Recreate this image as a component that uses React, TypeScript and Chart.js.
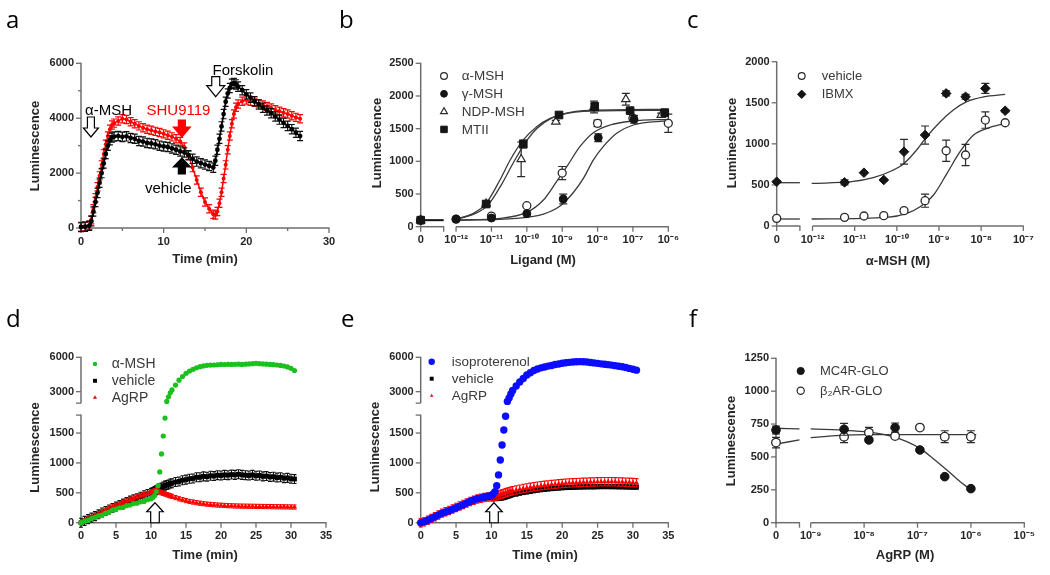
import React, { useEffect, useRef } from "react";
import { Chart, registerables } from "chart.js";
Chart.register(...registerables);

const FONT = '"Liberation Sans", Arial, Helvetica, sans-serif';
const AXIS_COLOR = "#6e6e6e";
const INK = "#262626";
const RED = "#ff0000";
const GREEN = "#1cc01c";
const BLUE = "#0c0cff";

// ================= panel a : time course =================
const aTime = [0,0.5,1,1.25,1.5,1.75,2,2.25,2.5,2.75,3,3.25,3.5,3.75,4,4.5,5,5.5,6,6.5,7,7.5,8,8.5,9,9.5,10,10.5,11,11.5,12,12.5,13,13.5,14,14.5,15,15.5,16,16.25,16.5,16.75,17,17.25,17.5,17.75,18,18.25,18.5,18.75,19,19.5,20,20.5,21,21.5,22,22.5,23,23.5,24,24.5,25,25.5,26,26.5];
const aVehicle = [40,50,80,250,600,950,1280,1650,2000,2350,2700,3000,3200,3300,3330,3350,3320,3340,3280,3250,3170,3150,3100,3080,3050,3000,2970,2950,2900,2850,2790,2750,2650,2520,2420,2360,2310,2260,2200,2450,2850,3250,3700,4150,4600,4900,5100,5250,5280,5230,5150,5020,4870,4750,4620,4500,4380,4280,4180,4060,3950,3830,3720,3600,3470,3350];
const aSHU9119 = [40,50,100,300,700,1100,1500,1900,2300,2700,3050,3350,3600,3750,3820,3900,3980,3950,3870,3800,3720,3650,3600,3560,3520,3480,3430,3380,3320,3250,3150,2950,2650,2200,1750,1300,950,700,500,470,600,900,1300,1800,2300,2850,3350,3800,4150,4400,4520,4620,4660,4620,4580,4530,4480,4430,4370,4310,4250,4200,4150,4090,4030,3980];
const aVehicleSem = 170;
const aSHU9119Sem = 150;
const aTicksX = [0, 10, 20, 30];
const aMinorX = [5, 15, 25];
const aTicksY = [0, 2000, 4000, 6000];
const aMinorY = [1000, 3000, 5000];

// ================= panel b : ligands =================
const bZero = -13;
const bAlphaLogC = [null, -12, -11, -10, -9, -8, -7, -6];
const bAlphaLum = [100, 115, 163, 321, 821, 1582, 1660, 1582];
const bAlphaSem = [0, 0, 10, 12, 100, 50, 40, 140];
const bGammaLogC = [null, -12, -11, -10, -8.97, -7.98, -6.97];
const bGammaLum = [100, 117, 133, 199, 423, 1362, 1643];
const bGammaSem = [0, 0, 0, 15, 75, 60, 60];
const bNdpLogC = [null, -11.15, -10.16, -9.18, -8.1, -7.2, -6.2];
const bNdpLum = [100, 350, 1031, 1607, 1830, 1949, 1709];
const bNdpSem = [0, 20, 265, 20, 90, 90, 30];
const bMtiiLogC = [null, -11.15, -10.1, -9.09, -8.08, -7.08, -6.1];
const bMtiiLum = [100, 347, 1265, 1709, 1837, 1776, 1745];
const bMtiiSem = [0, 40, 60, 20, 60, 30, 20];
const bAlphaFitLogC = [-12, -10.76, -10.0, -9.53, -9.16, -8.87, -8.5, -8.12, -7.65, -6.99, -6.0];
const bAlphaFitLum = [102, 128, 219, 408, 689, 918, 1224, 1439, 1556, 1617, 1643];
const bGammaFitLogC = [-12, -10.29, -9.53, -9.06, -8.69, -8.4, -8.12, -7.84, -7.46, -6.99, -6.0];
const bGammaFitLum = [97, 128, 194, 316, 520, 740, 1020, 1224, 1429, 1556, 1622];
const bNdpFitLogC = [-12, -11.5, -11.1, -10.7, -10.4, -10.05, -9.7, -9.3, -8.85, -8.4, -6.0];
const bNdpFitLum = [115, 190, 330, 660, 960, 1280, 1510, 1660, 1740, 1775, 1795];
const bMtiiFitLogC = [-12, -11.51, -11.15, -10.76, -10.47, -10.1, -9.72, -9.34, -8.87, -8.4, -6.0];
const bMtiiFitLum = [117, 204, 357, 714, 1020, 1327, 1531, 1658, 1735, 1765, 1780];
const bZeroSegLogC = [-13, -12.35];
const bZeroSegLum = [100, 100];
const bTicksX = [-13, -12.35, -12, -11, -10, -9, -8, -7, -6];
const bTickLabelsX = ["0", "", "10⁻¹²", "10⁻¹¹", "10⁻¹⁰", "10⁻⁹", "10⁻⁸", "10⁻⁷", "10⁻⁶"];
const bTicksY = [0, 500, 1000, 1500, 2000, 2500];

// ================= panel c : IBMX =================
const cZero = -12.85;
const cLogC = [null, -11.24, -10.78, -10.31, -9.83, -9.33, -8.83, -8.37, -7.9, -7.43];
const cIbmxLum = [539, 531, 649, 560, 904, 1107, 1614, 1573, 1675, 1403];
const cIbmxSem = [10, 30, 10, 10, 150, 110, 30, 30, 60, 15];
const cVehicleLum = [93, 105, 122, 126, 187, 308, 916, 864, 1290, 1257];
const cVehicleSem = [20, 10, 10, 10, 15, 80, 130, 130, 100, 15];
const cIbmxFitLogC = [-12.02, -11.07, -10.56, -10.12, -9.83, -9.53, -9.29, -8.97, -8.66, -8.34, -7.94, -7.43];
const cIbmxFitLum = [519, 539, 588, 673, 762, 925, 1087, 1269, 1411, 1513, 1573, 1602];
const cVehicleFitLogC = [-12.02, -10.24, -9.76, -9.45, -9.13, -8.81, -8.5, -8.18, -7.86, -7.43];
const cVehicleFitLum = [85, 105, 154, 235, 377, 641, 904, 1107, 1188, 1249];
const cZeroSegLogC = [-12.85, -12.3];
const cIbmxZeroLum = [527, 527];
const cVehicleZeroLum = [85, 85];
const cTicksX = [-12.85, -12.3, -12, -11, -10, -9, -8, -7];
const cTickLabelsX = ["0", "", "10⁻¹²", "10⁻¹¹", "10⁻¹⁰", "10⁻⁹", "10⁻⁸", "10⁻⁷"];
const cTicksY = [0, 500, 1000, 1500, 2000];

// ================= panel d : MC4R time course =================
const dTime = [0,0.5,1,1.5,2,2.5,3,3.5,4,4.5,5,5.5,6,6.5,7,7.5,8,8.5,9,9.5,10,10.25,10.5,10.75,11,11.25,11.5,11.75,12,12.25,12.5,12.75,13,13.5,14,14.5,15,15.5,16,16.5,17,17.5,18,18.5,19,19.5,20,20.5,21,21.5,22,22.5,23,23.5,24,24.5,25,25.5,26,26.5,27,27.5,28,28.5,29,29.5,30,30.5];
const dAlphaMSH = [0,25,38,70,88,115,128,160,178,210,228,250,255,285,296,320,325,350,356,385,400,420,450,520,620,850,1150,1450,1750,2150,2550,2900,3150,3580,4000,4320,4600,4800,4950,5080,5180,5250,5300,5320,5330,5350,5380,5370,5390,5380,5390,5400,5380,5400,5420,5440,5470,5440,5420,5400,5380,5360,5330,5290,5240,5160,5040,4850];
const dVehicle = [0,30,60,85,110,140,170,195,220,245,270,295,320,345,370,390,410,435,460,480,500,515,530,545,560,575,590,605,620,630,640,655,660,680,690,710,720,735,740,760,760,775,770,785,780,795,790,800,795,805,800,810,800,795,790,800,785,790,775,780,765,770,755,760,745,750,735,730];
const dAgRP = [0,30,60,90,120,150,180,210,240,265,290,315,340,365,390,410,430,450,470,490,510,520,530,535,530,515,500,490,480,470,460,450,440,420,400,385,370,355,345,335,325,318,310,305,300,295,292,288,285,283,280,278,277,276,275,274,273,272,271,270,269,268,267,266,265,264,263,262];
const dVehicleSem = 75;
const dAgRPSem = 35;

// ================= panel e : beta2AR time course =================
const eTime = dTime;
const eIsoproterenol = [0,15,40,70,100,130,160,180,200,225,250,275,300,330,360,380,400,415,430,445,460,480,520,620,800,1050,1300,1550,1780,2150,2450,2800,3100,3500,3850,4150,4450,4650,4850,4980,5080,5160,5230,5290,5370,5420,5480,5530,5560,5590,5610,5620,5610,5590,5550,5510,5470,5430,5400,5360,5320,5270,5220,5170,5110,5030,4960,4880];
const eVehicle = [0,15,35,65,95,125,150,175,195,220,245,270,295,320,345,365,385,400,410,415,420,410,410,405,405,410,415,420,430,440,450,460,470,480,495,505,515,525,535,545,552,560,565,570,575,580,585,588,590,592,595,597,598,600,600,600,602,603,603,603,602,602,600,600,598,597,595,595];
const eAgRP = [0,15,40,70,100,130,160,185,205,230,255,280,305,330,355,375,395,410,420,430,435,430,440,450,460,470,480,490,500,510,520,528,535,548,560,572,582,592,602,610,618,625,632,638,644,650,655,660,664,667,670,673,676,678,680,682,684,685,686,686,685,684,682,680,678,676,672,668];
const eVehicleSem = 35;
const eAgRPSem = 70;

const timeTicks35 = [0, 5, 10, 15, 20, 25, 30, 35];
const K_BREAK = 0.1917;
const brk = (v: number) => (v <= 2000 ? v : 2000 + (v - 2000) * K_BREAK);
const deTicksY = [0, 500, 1000, 1500, 1800, 2000, brk(3000), brk(6000)];
const deTickLabelsY = ["0", "500", "1000", "1500", "", "", "3000", "6000"];

// ================= panel f : AgRP =================
const fZero = -9.65;
const fLogC = [null, -8.375, -7.91, -7.42, -6.955, -6.49, -6.0];
const fMc4rLum = [705, 710, 629, 723, 553, 350, 259];
const fMc4rSem = [30, 45, 15, 35, 10, 10, 10];
const fB2arLum = [609, 654, 685, 659, 723, 654, 654];
const fB2arSem = [40, 45, 40, 10, 10, 45, 45];
const fMc4rFitLogC = [-9.0, -8.27, -7.83, -7.46, -7.2, -6.955, -6.71, -6.45, -6.2, -6.02];
const fMc4rFitLum = [713, 700, 685, 654, 616, 565, 489, 401, 312, 256];
const fB2arFitLogC = [-9.0, -8.45, -7.95, -5.9];
const fB2arFitLum = [647, 664, 669, 669];
const fZeroSegLogC = [-9.65, -9.21];
const fMc4rZeroLum = [718, 713];
const fB2arZeroLum = [598, 629];
const fTicksX = [-9.65, -9.21, -9, -8, -7, -6, -5];
const fTickLabelsX = ["0", "", "10⁻⁹", "10⁻⁸", "10⁻⁷", "10⁻⁶", "10⁻⁵"];
const fTicksY = [0, 250, 500, 750, 1000, 1250];

// ================= helpers =================
type Marker = { shape: string; r: number; fill: string; stroke: string; lw: number };
const mk = (shape: string, r: number, fill: string, stroke: string, lw: number): Marker => ({ shape, r, fill, stroke, lw });

const series = (xs: number[], ys: number[], f: (v: number) => number = (v) => v) =>
  xs.map((x, i) => ({ x, y: f(ys[i]) }));
const doses = (xs: (number | null)[], ys: number[], zero: number) =>
  xs.map((x, i) => ({ x: x === null ? zero : x, y: ys[i] }));

function pts(data: any[], m: Marker, line?: { color: string; w: number }) {
  return {
    data,
    pointStyle: m.shape,
    pointRadius: m.r,
    pointHoverRadius: m.r,
    pointBackgroundColor: m.fill,
    pointBorderColor: m.stroke,
    pointBorderWidth: m.lw,
    showLine: !!line,
    borderColor: line ? line.color : m.stroke,
    borderWidth: line ? line.w : 0,
    clip: false,
  };
}
function curve(data: any[], color = "#3a3a3a", w = 1.3) {
  return {
    data,
    showLine: true,
    pointRadius: 0,
    pointHoverRadius: 0,
    borderColor: color,
    borderWidth: w,
    cubicInterpolationMode: "monotone",
    clip: false,
    fill: false,
  };
}

function drawMarker(ctx: CanvasRenderingContext2D, m: Marker, x: number, y: number) {
  ctx.save();
  ctx.beginPath();
  const r = m.r;
  if (m.shape === "circle") ctx.arc(x, y, r, 0, Math.PI * 2);
  else if (m.shape === "rect") {
    const s = r * Math.SQRT1_2;
    ctx.rect(x - s, y - s, 2 * s, 2 * s);
  } else if (m.shape === "rectRot") {
    ctx.moveTo(x, y - r);
    ctx.lineTo(x + r, y);
    ctx.lineTo(x, y + r);
    ctx.lineTo(x - r, y);
    ctx.closePath();
  } else if (m.shape === "triangle") {
    for (let k = 0; k < 3; k++) {
      const a = (k * 2 * Math.PI) / 3;
      const px = x + Math.sin(a) * r;
      const py = y - Math.cos(a) * r;
      if (k === 0) ctx.moveTo(px, py);
      else ctx.lineTo(px, py);
    }
    ctx.closePath();
  }
  ctx.fillStyle = m.fill;
  ctx.fill();
  if (m.lw > 0) {
    ctx.lineWidth = m.lw;
    ctx.strokeStyle = m.stroke;
    ctx.stroke();
  }
  ctx.restore();
}

type Err = { v: number[] | number; color: string; cap: number; lw: number };
type AxisSpec = { min: number; max: number; ticks: number[]; labels: string[]; minor?: number[]; segments: number[][] };
type Arrow = { x: number; y: number; dir: "up" | "down"; len: number; hw: number; sw: number; hl: number; fill: string; stroke: string };
type Txt = { t: string; x: number; y: number; size: number; bold?: boolean; color?: string; align?: CanvasTextAlign; rot?: boolean };
type Spec = {
  id: string;
  box: { x: number; y: number; w: number; h: number };
  area: { L: number; T: number; R: number; B: number };
  x: AxisSpec;
  y: AxisSpec;
  sets: { ds: any; err?: Err }[];
  legend?: { x: number; y: number; dy: number; tx: number; size: number; items: { label: string; m: Marker }[] };
  texts: Txt[];
  arrows?: Arrow[];
};

const W_Y = 50;
const H_X = 30;

function makePlugin(spec: Spec) {
  const ox = spec.box.x;
  const oy = spec.box.y;
  return {
    id: "panel_" + spec.id,
    beforeDatasetsDraw(chart: any) {
      const ctx: CanvasRenderingContext2D = chart.ctx;
      const xs = chart.scales.x;
      const ys = chart.scales.y;
      const { left, bottom } = chart.chartArea;
      ctx.save();
      ctx.strokeStyle = AXIS_COLOR;
      ctx.lineWidth = 1.5;
      const seg = (x1: number, y1: number, x2: number, y2: number) => {
        ctx.beginPath();
        ctx.moveTo(x1, y1);
        ctx.lineTo(x2, y2);
        ctx.stroke();
      };
      for (const [a, b] of spec.x.segments) {
        const p1 = xs.getPixelForValue(a);
        const p2 = xs.getPixelForValue(b);
        seg(p1 - (a === spec.x.min ? 0.75 : 0), bottom, p2 + 0.5, bottom);
      }
      for (const [a, b] of spec.y.segments) {
        const p1 = ys.getPixelForValue(a);
        const p2 = ys.getPixelForValue(b);
        seg(left, p1 + (a === spec.y.min ? 0.75 : 0), left, p2 - 0.5);
      }
      ctx.lineWidth = 1.3;
      for (const v of spec.x.ticks) {
        const p = xs.getPixelForValue(v);
        seg(p, bottom, p, bottom + 5);
      }
      for (const v of spec.x.minor || []) {
        const p = xs.getPixelForValue(v);
        seg(p, bottom, p, bottom + 3);
      }
      for (const v of spec.y.ticks) {
        const p = ys.getPixelForValue(v);
        seg(left, p, left - 5, p);
      }
      for (const v of spec.y.minor || []) {
        const p = ys.getPixelForValue(v);
        seg(left, p, left - 3, p);
      }
      ctx.restore();
    },
    beforeDatasetDraw(chart: any, args: any) {
      const s = spec.sets[args.index];
      if (!s || !s.err) return;
      const e = s.err;
      const ctx: CanvasRenderingContext2D = chart.ctx;
      const ys = chart.scales.y;
      const meta = chart.getDatasetMeta(args.index);
      const data = chart.data.datasets[args.index].data;
      ctx.save();
      ctx.strokeStyle = e.color;
      ctx.lineWidth = e.lw;
      data.forEach((d: any, j: number) => {
        const v = Array.isArray(e.v) ? e.v[j] : e.v;
        if (!v) return;
        const el = meta.data[j];
        if (!el) return;
        const px = el.x;
        const y1 = ys.getPixelForValue(d.y + v);
        const y2 = ys.getPixelForValue(d.y - v);
        ctx.beginPath();
        ctx.moveTo(px, y1);
        ctx.lineTo(px, y2);
        ctx.moveTo(px - e.cap, y1);
        ctx.lineTo(px + e.cap, y1);
        ctx.moveTo(px - e.cap, y2);
        ctx.lineTo(px + e.cap, y2);
        ctx.stroke();
      });
      ctx.restore();
    },
    afterDatasetsDraw(chart: any) {
      const ctx: CanvasRenderingContext2D = chart.ctx;
      const xs = chart.scales.x;
      const ys = chart.scales.y;
      for (const a of spec.arrows || []) {
        const tx = xs.getPixelForValue(a.x);
        const ty = ys.getPixelForValue(a.y);
        const s = a.dir === "down" ? -1 : 1;
        ctx.save();
        ctx.beginPath();
        ctx.moveTo(tx, ty);
        ctx.lineTo(tx + a.hw, ty + s * a.hl);
        ctx.lineTo(tx + a.sw, ty + s * a.hl);
        ctx.lineTo(tx + a.sw, ty + s * a.len);
        ctx.lineTo(tx - a.sw, ty + s * a.len);
        ctx.lineTo(tx - a.sw, ty + s * a.hl);
        ctx.lineTo(tx - a.hw, ty + s * a.hl);
        ctx.closePath();
        ctx.fillStyle = a.fill;
        ctx.fill();
        ctx.lineWidth = 1.2;
        ctx.strokeStyle = a.stroke;
        ctx.stroke();
        ctx.restore();
      }
    },
    afterDraw(chart: any) {
      const ctx: CanvasRenderingContext2D = chart.ctx;
      ctx.save();
      if (spec.legend) {
        const lg = spec.legend;
        lg.items.forEach((it, i) => {
          const yy = lg.y + i * lg.dy - oy;
          drawMarker(ctx, it.m, lg.x - ox, yy);
          ctx.font = `${lg.size}px ${FONT}`;
          ctx.fillStyle = "#3a3a3a";
          ctx.textAlign = "left";
          ctx.textBaseline = "middle";
          ctx.fillText(it.label, lg.tx - ox, yy + 0.5);
        });
      }
      for (const t of spec.texts) {
        ctx.save();
        ctx.font = `${t.bold ? "bold " : ""}${t.size}px ${FONT}`;
        ctx.fillStyle = t.color || INK;
        ctx.textAlign = t.align || "center";
        ctx.textBaseline = "middle";
        ctx.translate(t.x - ox, t.y - oy);
        if (t.rot) ctx.rotate(-Math.PI / 2);
        ctx.fillText(t.t, 0, 0);
        ctx.restore();
      }
      ctx.restore();
    },
  };
}

function buildConfig(spec: Spec): any {
  const { box, area } = spec;
  const axis = (ax: AxisSpec, isX: boolean) => ({
    type: "linear",
    min: ax.min,
    max: ax.max,
    position: isX ? "bottom" : "left",
    grid: { display: false, drawTicks: true, tickLength: 4 },
    border: { display: false },
    ticks: {
      autoSkip: false,
      maxRotation: 0,
      minRotation: 0,
      padding: 3,
      color: INK,
      font: { family: FONT, size: 11, weight: "bold" },
      callback: (_v: any, i: number) => (ax.labels[i] !== undefined ? ax.labels[i] : ""),
    },
    afterBuildTicks: (s: any) => {
      s.ticks = ax.ticks.map((v) => ({ value: v }));
    },
    afterFit: (s: any) => {
      if (isX) {
        s.height = H_X;
        s.paddingLeft = 0;
        s.paddingRight = 0;
      } else {
        s.width = W_Y;
        s.paddingTop = 0;
        s.paddingBottom = 0;
      }
    },
  });
  return {
    type: "scatter",
    data: { datasets: spec.sets.map((s) => s.ds) },
    options: {
      responsive: false,
      animation: false,
      devicePixelRatio: 1,
      events: [],
      layout: {
        padding: {
          left: area.L - box.x - W_Y,
          top: area.T - box.y,
          right: box.x + box.w - area.R,
          bottom: box.y + box.h - area.B - H_X,
        },
      },
      plugins: { legend: { display: false }, tooltip: { enabled: false }, title: { display: false } },
      scales: { x: axis(spec.x, true), y: axis(spec.y, false) },
    },
    plugins: [makePlugin(spec)],
  };
}

// ================= markers =================
const M_A_BLACK = mk("circle", 2.4, "#000", "#000", 0);
const M_A_RED = mk("circle", 2.0, RED, RED, 0);
const M_OPEN_C = mk("circle", 4, "#fff", "#2a2a2a", 1.3);
const M_FILL_C = mk("circle", 4, "#151515", "#151515", 1);
const M_OPEN_T = mk("triangle", 4.8, "#fff", "#2a2a2a", 1.2);
const M_FILL_S = mk("rect", 5.4, "#151515", "#151515", 1);
const M_FILL_D = mk("rectRot", 4.8, "#151515", "#151515", 1);
const M_F_FILL_C = mk("circle", 4.3, "#151515", "#151515", 1);
const M_F_OPEN_C = mk("circle", 4.3, "#fff", "#2a2a2a", 1.3);
const M_GREEN = mk("circle", 2.6, GREEN, GREEN, 0);
const M_BSQ = mk("rect", 3.4, "#000", "#000", 0);
const M_RTRI = mk("triangle", 3.0, RED, RED, 0);
const M_BLUE = mk("circle", 3.7, BLUE, BLUE, 0);
const M_LG_GREEN = mk("circle", 2.2, GREEN, GREEN, 0);
const M_LG_BSQ = mk("rect", 2.8, "#000", "#000", 0);
const M_LG_RTRI = mk("triangle", 2.4, RED, RED, 0);
const M_LG_BLUE = mk("circle", 3.2, BLUE, BLUE, 0);

const errBW = (v: number[] | number): Err => ({ v, color: "#2a2a2a", cap: 4, lw: 1.2 });

// ================= specs =================
const specA: Spec = {
  id: "a",
  box: { x: 0, y: 0, w: 350, h: 290 },
  area: { L: 81, T: 63.3, R: 329, B: 228 },
  x: { min: 0, max: 30, ticks: aTicksX, labels: aTicksX.map(String), minor: aMinorX, segments: [[0, 30]] },
  y: { min: 0, max: 6000, ticks: aTicksY, labels: aTicksY.map(String), minor: aMinorY, segments: [[0, 6000]] },
  sets: [
    { ds: pts(series(aTime, aVehicle), M_A_BLACK, { color: "#000", w: 1.6 }), err: { v: aVehicleSem, color: "#111", cap: 3, lw: 1.2 } },
    { ds: pts(series(aTime, aSHU9119), M_A_RED, { color: RED, w: 1.5 }), err: { v: aSHU9119Sem, color: RED, cap: 3, lw: 1.2 } },
  ],
  texts: [
    { t: "Luminescence", x: 35, y: 146, size: 13, bold: true, rot: true },
    { t: "Time (min)", x: 205, y: 259.5, size: 13, bold: true },
    { t: "α-MSH", x: 85, y: 111, size: 15, align: "left", color: "#000" },
    { t: "SHU9119", x: 146.5, y: 110.5, size: 15, align: "left", color: RED },
    { t: "vehicle", x: 145, y: 189, size: 15, align: "left", color: "#000" },
    { t: "Forskolin", x: 212.5, y: 71, size: 15, align: "left", color: "#000" },
  ],
  arrows: [
    { x: 1.2, y: 3315, dir: "down", len: 20, hw: 7.5, sw: 3.5, hl: 9, fill: "#fff", stroke: "#000" },
    { x: 12.2, y: 3315, dir: "down", len: 17, hw: 8.5, sw: 3.5, hl: 10, fill: RED, stroke: RED },
    { x: 12.2, y: 2550, dir: "up", len: 16, hw: 8.5, sw: 3.5, hl: 9, fill: "#000", stroke: "#000" },
    { x: 16.3, y: 4783, dir: "down", len: 20, hw: 9, sw: 4, hl: 11, fill: "#fff", stroke: "#000" },
  ],
};

const specB: Spec = {
  id: "b",
  box: { x: 350, y: 0, w: 350, h: 290 },
  area: { L: 420.7, T: 63.3, R: 668.3, B: 226.7 },
  x: { min: -13, max: -6, ticks: bTicksX, labels: bTickLabelsX, segments: [[-13, -12.35], [-12, -6]] },
  y: { min: 0, max: 2500, ticks: bTicksY, labels: bTicksY.map(String), segments: [[0, 2500]] },
  sets: [
    { ds: pts(doses(bGammaLogC, bGammaLum, bZero), M_FILL_C), err: errBW(bGammaSem) },
    { ds: pts(doses(bMtiiLogC, bMtiiLum, bZero), M_FILL_S), err: errBW(bMtiiSem) },
    { ds: pts(doses(bNdpLogC, bNdpLum, bZero), M_OPEN_T), err: errBW(bNdpSem) },
    { ds: pts(doses(bAlphaLogC, bAlphaLum, bZero), M_OPEN_C), err: errBW(bAlphaSem) },
    { ds: curve(series(bAlphaFitLogC, bAlphaFitLum)) },
    { ds: curve(series(bGammaFitLogC, bGammaFitLum)) },
    { ds: curve(series(bNdpFitLogC, bNdpFitLum)) },
    { ds: curve(series(bMtiiFitLogC, bMtiiFitLum)) },
    { ds: curve(series(bZeroSegLogC, bZeroSegLum), "#111", 2) },
  ],
  legend: {
    x: 444, y: 76, dy: 17.8, tx: 461.7, size: 13.5,
    items: [
      { label: "α-MSH", m: mk("circle", 3.4, "#fff", "#2a2a2a", 1.2) },
      { label: "γ-MSH", m: mk("circle", 3.4, "#151515", "#151515", 1) },
      { label: "NDP-MSH", m: mk("triangle", 4, "#fff", "#2a2a2a", 1.1) },
      { label: "MTII", m: mk("rect", 4.6, "#151515", "#151515", 1) },
    ],
  },
  texts: [
    { t: "Luminescence", x: 377, y: 143, size: 13, bold: true, rot: true },
    { t: "Ligand (M)", x: 543, y: 260, size: 13, bold: true },
  ],
};

const specC: Spec = {
  id: "c",
  box: { x: 700, y: 0, w: 350, h: 290 },
  area: { L: 776.7, T: 61.7, R: 1023.3, B: 226 },
  x: { min: -12.85, max: -7, ticks: cTicksX, labels: cTickLabelsX, segments: [[-12.85, -12.3], [-12, -7]] },
  y: { min: 0, max: 2000, ticks: cTicksY, labels: cTicksY.map(String), segments: [[0, 2000]] },
  sets: [
    { ds: pts(doses(cLogC, cIbmxLum, cZero), M_FILL_D), err: errBW(cIbmxSem) },
    { ds: pts(doses(cLogC, cVehicleLum, cZero), M_OPEN_C), err: errBW(cVehicleSem) },
    { ds: curve(series(cIbmxFitLogC, cIbmxFitLum)) },
    { ds: curve(series(cVehicleFitLogC, cVehicleFitLum)) },
    { ds: curve(series(cZeroSegLogC, cIbmxZeroLum)) },
    { ds: curve(series(cZeroSegLogC, cVehicleZeroLum)) },
  ],
  legend: {
    x: 801.7, y: 76, dy: 18.3, tx: 821.7, size: 13,
    items: [
      { label: "vehicle", m: mk("circle", 3.4, "#fff", "#2a2a2a", 1.2) },
      { label: "IBMX", m: mk("rectRot", 4.2, "#151515", "#151515", 1) },
    ],
  },
  texts: [
    { t: "Luminescence", x: 732, y: 143, size: 13, bold: true, rot: true },
    { t: "α-MSH (M)", x: 898, y: 261.7, size: 13, bold: true },
  ],
};

const specD: Spec = {
  id: "d",
  box: { x: 0, y: 290, w: 350, h: 285 },
  area: { L: 81, T: 357.3, R: 326, B: 522.7 },
  x: { min: 0, max: 35, ticks: timeTicks35, labels: timeTicks35.map(String), segments: [[0, 35]] },
  y: { min: 0, max: brk(6000), ticks: deTicksY, labels: deTickLabelsY, segments: [[0, 1800], [2000, brk(6000)]] },
  sets: [
    { ds: pts(series(dTime, dAlphaMSH, brk), M_GREEN) },
    { ds: pts(series(dTime, dAgRP, brk), M_RTRI), err: { v: dAgRPSem, color: RED, cap: 2, lw: 1 } },
    { ds: pts(series(dTime, dVehicle, brk), M_BSQ), err: { v: dVehicleSem, color: "#111", cap: 2, lw: 1.1 } },
  ],
  legend: {
    x: 95, y: 364, dy: 16.8, tx: 111.7, size: 14,
    items: [
      { label: "α-MSH", m: M_LG_GREEN },
      { label: "vehicle", m: M_LG_BSQ },
      { label: "AgRP", m: M_LG_RTRI },
    ],
  },
  texts: [
    { t: "Luminescence", x: 35, y: 447.5, size: 13, bold: true, rot: true },
    { t: "Time (min)", x: 205, y: 555, size: 13, bold: true },
  ],
  arrows: [{ x: 10.57, y: 334, dir: "up", len: 20, hw: 8.3, sw: 4.3, hl: 9, fill: "#fff", stroke: "#000" }],
};

const specE: Spec = {
  id: "e",
  box: { x: 350, y: 290, w: 350, h: 285 },
  area: { L: 420.7, T: 357.3, R: 668.3, B: 522.7 },
  x: { min: 0, max: 35, ticks: timeTicks35, labels: timeTicks35.map(String), segments: [[0, 35]] },
  y: { min: 0, max: brk(6000), ticks: deTicksY, labels: deTickLabelsY, segments: [[0, 1800], [2000, brk(6000)]] },
  sets: [
    { ds: pts(series(eTime, eIsoproterenol, brk), M_BLUE) },
    { ds: pts(series(eTime, eAgRP, brk), M_RTRI), err: { v: eAgRPSem, color: RED, cap: 2, lw: 1.1 } },
    { ds: pts(series(eTime, eVehicle, brk), M_BSQ), err: { v: eVehicleSem, color: "#111", cap: 2, lw: 1 } },
  ],
  legend: {
    x: 431.7, y: 361.7, dy: 17, tx: 451.7, size: 13.5,
    items: [
      { label: "isoproterenol", m: M_LG_BLUE },
      { label: "vehicle", m: M_LG_BSQ },
      { label: "AgRP", m: mk("triangle", 2, RED, RED, 0) },
    ],
  },
  texts: [
    { t: "Luminescence", x: 375, y: 447, size: 13, bold: true, rot: true },
    { t: "Time (min)", x: 545, y: 555, size: 13, bold: true },
  ],
  arrows: [{ x: 10.36, y: 334, dir: "up", len: 20, hw: 8.3, sw: 4.3, hl: 9, fill: "#fff", stroke: "#000" }],
};

const specF: Spec = {
  id: "f",
  box: { x: 700, y: 290, w: 350, h: 285 },
  area: { L: 776, T: 358.3, R: 1024.3, B: 522.7 },
  x: { min: -9.65, max: -5, ticks: fTicksX, labels: fTickLabelsX, segments: [[-9.65, -9.21], [-9, -5]] },
  y: { min: 0, max: 1250, ticks: fTicksY, labels: fTicksY.map(String), segments: [[0, 1250]] },
  sets: [
    { ds: pts(doses(fLogC, fMc4rLum, fZero), M_F_FILL_C), err: errBW(fMc4rSem) },
    { ds: pts(doses(fLogC, fB2arLum, fZero), M_F_OPEN_C), err: errBW(fB2arSem) },
    { ds: curve(series(fMc4rFitLogC, fMc4rFitLum)) },
    { ds: curve(series(fB2arFitLogC, fB2arFitLum)) },
    { ds: curve(series(fZeroSegLogC, fMc4rZeroLum)) },
    { ds: curve(series(fZeroSegLogC, fB2arZeroLum)) },
  ],
  legend: {
    x: 800.7, y: 371, dy: 19.7, tx: 820, size: 13,
    items: [
      { label: "MC4R-GLO", m: mk("circle", 3.6, "#151515", "#151515", 1) },
      { label: "β₂AR-GLO", m: mk("circle", 3.6, "#fff", "#2a2a2a", 1.2) },
    ],
  },
  texts: [
    { t: "Luminescence", x: 731.7, y: 441, size: 13, bold: true, rot: true },
    { t: "AgRP (M)", x: 905, y: 555, size: 13, bold: true },
  ],
};

const SPECS = [specA, specB, specC, specD, specE, specF];
const LETTERS = [
  { t: "a", x: 6, y: 7 },
  { t: "b", x: 339, y: 7 },
  { t: "c", x: 687, y: 7 },
  { t: "d", x: 6, y: 306 },
  { t: "e", x: 341, y: 306 },
  { t: "f", x: 689, y: 306 },
];

function ChartPanel({ spec }: { spec: Spec }) {
  const ref = useRef<HTMLCanvasElement>(null);
  useEffect(() => {
    const chart = new Chart(ref.current as HTMLCanvasElement, buildConfig(spec));
    return () => chart.destroy();
  }, [spec]);
  const { x, y, w, h } = spec.box;
  return (
    <canvas
      ref={ref}
      width={w}
      height={h}
      style={{ position: "absolute", left: x, top: y, width: w, height: h, display: "block" }}
    />
  );
}

export default function App() {
  return (
    <div style={{ position: "absolute", left: 0, top: 0, width: 1050, height: 575, background: "#fff", overflow: "hidden" }}>
      {SPECS.map((s) => (
        <ChartPanel key={s.id} spec={s} />
      ))}
      {LETTERS.map((l) => (
        <div
          key={l.t}
          style={{
            position: "absolute",
            left: l.x,
            top: l.y,
            fontFamily: '"Open Sans", sans-serif',
            fontSize: 24,
            lineHeight: "24px",
            color: "#000",
          }}
        >
          {l.t}
        </div>
      ))}
    </div>
  );
}
